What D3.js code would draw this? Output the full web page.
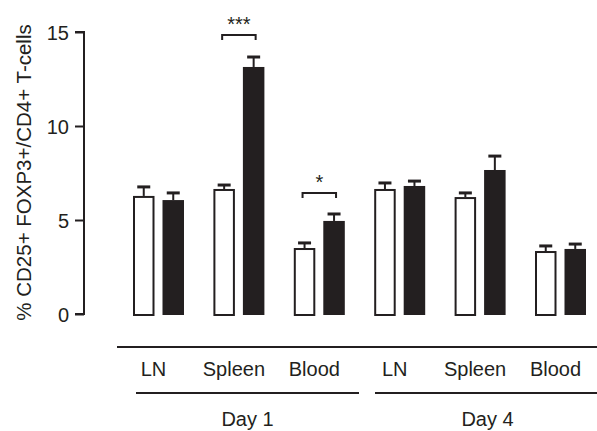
<!DOCTYPE html>
<html>
<head>
<meta charset="utf-8">
<script src="https://cdn.jsdelivr.net/npm/d3@7"></script>
<style>
html,body{margin:0;padding:0;background:#fff;}
svg{display:block;}
text{font-family:"Liberation Sans",Arial,sans-serif;fill:#231f20;}
</style>
</head>
<body>
<svg id="chart" width="597" height="431"></svg>
<script>
// ---- data ----
const groupIds = ["d1-LN","d1-Spleen","d1-Blood","d4-LN","d4-Spleen","d4-Blood"];
const tissueLabels = ["LN","Spleen","Blood","LN","Spleen","Blood"];
const dayLabels = ["Day 1","Day 4"];
const series = ["open","filled"];
const openMeans = [6.28, 6.65, 3.51, 6.65, 6.22, 3.35];
const openSem   = [0.48, 0.21, 0.27, 0.32, 0.22, 0.27];
const filledMeans = [6.06, 13.14, 4.95, 6.81, 7.66, 3.46];
const filledSem   = [0.38, 0.53, 0.37, 0.26, 0.74, 0.26];
const yTicks = [0, 5, 10, 15];
const yTitle = "% CD25+ FOXP3+/CD4+ T-cells";
const sigGroups = ["d1-Spleen","d1-Blood"];
const sigLabels = ["***","*"];
const sigLevels = [14.84, 6.44];

// ---- layout ----
const ink = "#231f20";
const svg = d3.select("#chart");
const y = d3.scaleLinear().domain([0, 15]).range([314, 32]);
const x0 = d3.scaleBand().domain(groupIds).range([133, 133 + 6 * 80.4]).paddingInner(0).paddingOuter(0);
const x1 = d3.scaleBand().domain(series).range([0, 51]).paddingInner(0.271).paddingOuter(0);

const rows = groupIds.map((g, i) => ({g, i}));
const bars = [];
rows.forEach(r => {
  bars.push({g: r.g, s: "open", v: openMeans[r.i], e: openSem[r.i]});
  bars.push({g: r.g, s: "filled", v: filledMeans[r.i], e: filledSem[r.i]});
});

// y axis
const yAxis = d3.axisLeft(y).tickValues(yTicks).tickSize(9).tickPadding(6).tickFormat(d3.format("d"));
const ag = svg.append("g").attr("transform", "translate(84,0)").call(yAxis);
ag.select(".domain").attr("stroke", ink).attr("stroke-width", 2).attr("d", `M-9,${y(15)}H0V${y(0)}H-9`);
ag.selectAll(".tick line").attr("stroke", ink).attr("stroke-width", 2);
ag.selectAll(".tick text").attr("font-size", 20).attr("fill", ink).attr("dy", "0.36em")
  .style("font-family", '"Liberation Sans",Arial,sans-serif');

svg.append("text")
  .attr("transform", `translate(31,172.5) rotate(-90)`)
  .attr("text-anchor", "middle")
  .attr("font-size", 20.5)
  .text(yTitle);

// error bars
const eg = svg.append("g");
bars.forEach(b => {
  const cx = x0(b.g) + x1(b.s) + x1.bandwidth() / 2;
  eg.append("line").attr("x1", cx).attr("x2", cx).attr("y1", y(b.v)).attr("y2", y(b.v + b.e))
    .attr("stroke", ink).attr("stroke-width", 2);
  eg.append("line").attr("x1", cx - 6.5).attr("x2", cx + 6.5).attr("y1", y(b.v + b.e)).attr("y2", y(b.v + b.e))
    .attr("stroke", ink).attr("stroke-width", 3);
});

// bars
svg.append("g").selectAll("rect").data(bars).join("rect")
  .attr("x", d => x0(d.g) + x1(d.s) + (d.s === "open" ? 1 : 0))
  .attr("width", d => x1.bandwidth() - (d.s === "open" ? 2 : 0))
  .attr("y", d => y(d.v) + (d.s === "open" ? 1 : 0))
  .attr("height", d => y(0) - y(d.v) + (d.s === "open" ? 0 : 1))
  .attr("fill", d => d.s === "open" ? "#fff" : ink)
  .attr("stroke", d => d.s === "open" ? ink : "none")
  .attr("stroke-width", 2);

// significance brackets
sigGroups.forEach((g, i) => {
  const xa = x0(g) + x1("open") + x1.bandwidth() / 2 - 2;
  const xb = x0(g) + x1("filled") + x1.bandwidth() / 2 + 2;
  const yy = y(sigLevels[i]);
  svg.append("path").attr("d", `M${xa},${yy + 5}V${yy}H${xb}V${yy + 5}`)
    .attr("fill", "none").attr("stroke", ink).attr("stroke-width", 2);
  svg.append("text").attr("x", (xa + xb) / 2).attr("y", yy - 4)
    .attr("text-anchor", "middle").attr("font-size", 20).text(sigLabels[i]);
});

// category lines and labels
const lineG = svg.append("g").attr("stroke", ink).attr("stroke-width", 2);
lineG.append("line").attr("x1", 117).attr("x2", 597).attr("y1", 347).attr("y2", 347);
svg.append("g").selectAll("text").data(rows).join("text")
  .attr("x", d => x0(d.g) + 25.5 - 5)
  .attr("y", 376)
  .attr("text-anchor", "middle")
  .attr("font-size", 20)
  .text(d => tissueLabels[d.i]);

const dayExt = [[136, 359], [375, 600]];
dayLabels.forEach((lab, i) => {
  lineG.append("line").attr("x1", dayExt[i][0]).attr("x2", dayExt[i][1]).attr("y1", 393).attr("y2", 393);
  svg.append("text").attr("x", (dayExt[i][0] + dayExt[i][1]) / 2).attr("y", 426)
    .attr("text-anchor", "middle").attr("font-size", 20).text(lab);
});
</script>
</body>
</html>
